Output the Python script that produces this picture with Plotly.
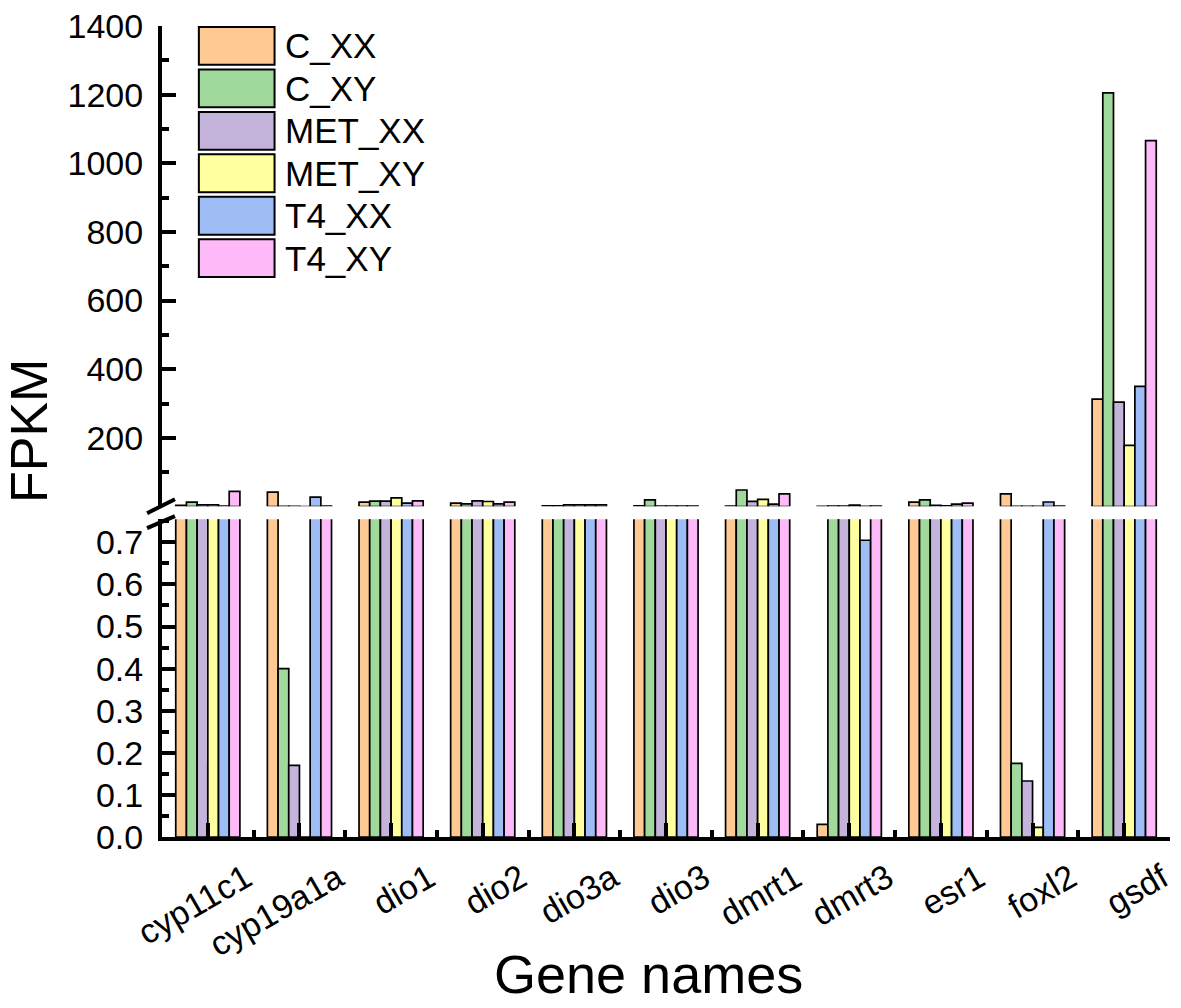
import plotly.graph_objects as go

# --- data (FPKM) ---
genes = ["cyp11c1", "cyp19a1a", "dio1", "dio2", "dio3a", "dio3",
         "dmrt1", "dmrt3", "esr1", "foxl2", "gsdf"]

c_xx = [3, 42, 12.5, 9.7, 2, 1.5, 1.2, 0.03, 12.6, 37, 313]
c_xy = [12.5, 0.40, 15.5, 7.7, 2, 19, 48, 1, 19, 0.175, 1205]
met_xx = [5, 0.17, 15.5, 16.4, 5, 1, 15, 1, 3, 0.133, 304]
met_xy = [5, 0, 25, 14.5, 5, 1, 21, 4, 2, 0.023, 178]
t4_xx = [1.2, 27, 9.7, 7.7, 5, 1, 7, 0.705, 7, 13, 350]
t4_xy = [44, 1, 16.4, 12.6, 5, 1, 37, 1, 10, 1, 1066]

series_names = ["C_XX", "C_XY", "MET_XX", "MET_XY", "T4_XX", "T4_XY"]
series_values = [c_xx, c_xy, met_xx, met_xy, t4_xx, t4_xy]
colors = ["#FFC994", "#9FD99C", "#C4B3DA", "#FFFFA0", "#9EBDF5", "#FDB9F8"]

lower_max = 0.755   # broken axis: lower panel 0 - 0.755, upper 0.755 - 1400
upper_max = 1400

FONT = "Arial, Liberation Sans, sans-serif"

# plot area in pixels (figure is 1181 x 1008)
W, H = 1181, 1008
L, R, T, B = 162, 1174, 23, 837


def px_x(px):
    return (px - L) / (R - L)


def px_y(py):
    return (B - py) / (B - T)


x_idx = list(range(len(genes)))

fig = go.Figure()
for name, vals, col in zip(series_names, series_values, colors):
    for xa, ya in (("x", "y"), ("x2", "y2")):
        fig.add_trace(go.Bar(
            x=x_idx, y=vals, name=name, showlegend=False,
            marker=dict(color=col, line=dict(color="black", width=1.7)),
            xaxis=xa, yaxis=ya,
        ))

axis_common = dict(showgrid=False, zeroline=False, showline=True,
                   linecolor="black", linewidth=4, ticks="inside",
                   tickcolor="black", tickwidth=3.5, ticklen=14,
                   tickfont=dict(family=FONT, size=34, color="black"))

fig.update_layout(
    width=W, height=H,
    margin=dict(l=L, r=W - R, t=T, b=H - B),
    plot_bgcolor="white", paper_bgcolor="white",
    barmode="group", bargap=0.30, bargroupgap=0,
    xaxis=dict(
        **axis_common, domain=[0, 1], anchor="y",
        range=[-0.5, len(genes) - 0.5],
        tickmode="array", tickvals=x_idx, ticktext=genes,
        tickangle=-30, ticklabelshift=38, ticklabelstandoff=4,
        minor=dict(tickvals=[i + 0.5 for i in x_idx[:-1]], ticks="inside",
                   ticklen=7, tickwidth=3.5, tickcolor="black"),
    ),
    xaxis2=dict(matches="x", anchor="y2", visible=False, domain=[0, 1]),
    yaxis=dict(
        **axis_common, domain=[0, px_y(518)], anchor="x",
        range=[0, lower_max], tickmode="linear", tick0=0, dtick=0.1,
        tickformat=".1f", ticklabelstandoff=8,
        minor=dict(dtick=0.05, ticks="inside", ticklen=7, tickwidth=3.5,
                   tickcolor="black"),
    ),
    yaxis2=dict(
        **axis_common, domain=[px_y(505), 1], anchor="x2",
        range=[lower_max, upper_max], tickmode="array",
        tickvals=[200, 400, 600, 800, 1000, 1200, 1400],
        ticklabelstandoff=8,
        minor=dict(tickvals=[100, 300, 500, 700, 900, 1100, 1300],
                   ticks="inside", ticklen=7, tickwidth=3.5,
                   tickcolor="black"),
    ),
)

# break marks on the y axis
for (x0, y0, x1, y1) in [(147, 512, 175, 498), (147, 527, 175, 515)]:
    fig.add_shape(type="line", xref="paper", yref="paper",
                  x0=px_x(x0), y0=px_y(y0), x1=px_x(x1), y1=px_y(y1),
                  line=dict(color="black", width=4))

# legend drawn by hand (large boxes as in the original)
for i, (name, col) in enumerate(zip(series_names, colors)):
    top = 24 + 42.6 * i
    bot = top + 38
    fig.add_shape(type="rect", xref="paper", yref="paper",
                  x0=px_x(199), x1=px_x(275), y0=px_y(bot), y1=px_y(top),
                  fillcolor=col, line=dict(color="black", width=2))
    fig.add_annotation(xref="paper", yref="paper", x=px_x(283),
                       y=px_y(top + 19), text=name, showarrow=False,
                       xanchor="left", yanchor="middle",
                       font=dict(family=FONT, size=35, color="black"))

# axis titles
fig.add_annotation(xref="paper", yref="paper", x=px_x(28), y=px_y(430),
                   text="FPKM", textangle=-90, showarrow=False,
                   xanchor="center", yanchor="middle",
                   font=dict(family=FONT, size=52, color="black"))
fig.add_annotation(xref="paper", yref="paper", x=px_x(650), y=px_y(975),
                   text="Gene names", showarrow=False,
                   xanchor="center", yanchor="middle",
                   font=dict(family=FONT, size=54, color="black"))

# page body has a default 8px margin; drop it so the figure sits at 0,0
fig.write_html("out.html", config={"displayModeBar": False},
               post_script="document.body.style.margin='0px';")
